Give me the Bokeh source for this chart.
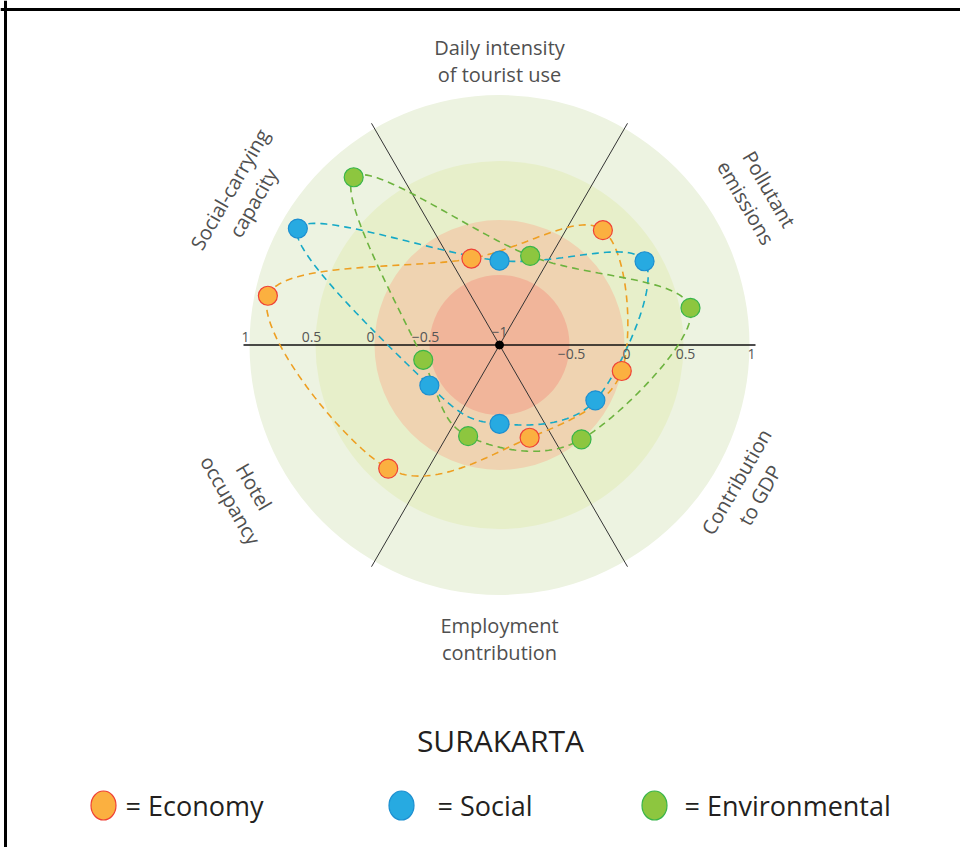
import numpy as np
from bokeh.plotting import figure
from bokeh.models import Range1d, Span
from bokeh.core.properties import value
from bokeh.embed import file_html
from bokeh.resources import INLINE

# ---------------- data ----------------
indicators = ["Social-carrying capacity", "Daily intensity of tourist use",
              "Pollutant emissions", "Contribution to GDP",
              "Employment contribution", "Hotel occupancy"]
indicator_lines = [["Social-carrying", "capacity"],
                   ["Daily intensity", "of tourist use"],
                   ["Pollutant", "emissions"],
                   ["Contribution", "to GDP"],
                   ["Employment", "contribution"],
                   ["Hotel", "occupancy"]]
economy = [0.90, -0.31, 0.25, 0.00, -0.25, 0.35]
social = [0.87, -0.37, 0.36, -0.13, -0.42, -0.40]
environmental = [0.79, -0.28, 0.58, 0.00, -0.26, -0.43]
series_names = ["Economy", "Social", "Environmental"]
ring_values = [1, 0.5, 0, -0.5]
left_tick_values = [1, 0.5, 0, -0.5]
left_tick_labels = ["1", "0.5", "0", "\u22120.5"]
right_tick_values = [-0.5, 0, 0.5, 1]
right_tick_labels = ["\u22120.5", "0", "0.5", "1"]
center_tick_label = "\u22121"
title_text = "SURAKARTA"

# ---------------- styling / geometry ----------------
W, H = 960, 847
CX, CY = 499, 344.5            # centre of the wheel inside the figure (px)
SCALE_V = [-1, -0.5, 0, 0.5, 1]
SCALE_R = [0, 70, 125, 184, 250]  # radial scale (px) of the drawing


def rad(v):
    return np.interp(v, SCALE_V, SCALE_R)


sector_deg = np.array([150, 90, 30, -30, -90, -150], dtype=float)
label_radius = [298, 284.5, 298, 287, 293.5, 297]
series_offset_deg = [18, 0, -19]
ring_colors = ["#EDF3E1", "#E7EFCA", "#EFD3B1", "#F1B59A"]
fill_colors = ["#FBB040", "#27AAE1", "#8DC63F"]
edge_colors = ["#EF4136", "#1D8FD0", "#39B54A"]
dash_colors = ["#EE9F22", "#16A9C6", "#6DB33F"]
FONT = value("Open Sans")
GREY = "#505050"

p = figure(width=W, height=H, output_backend="svg", toolbar_location=None,
           x_range=Range1d(-CX, W - CX), y_range=Range1d(-(H - CY), CY),
           min_border=0, outline_line_color=None)
p.axis.visible = False
p.grid.visible = False
p.background_fill_color = "white"
p.border_fill_color = "white"

# frame lines (top & left)
p.add_layout(Span(location=-CX + 5, dimension="height", line_color="black", line_width=3))
p.add_layout(Span(location=CY - 9, dimension="width", line_color="black", line_width=3))

# rings
for v, c in zip(ring_values, ring_colors):
    p.circle(x=[0], y=[0], radius=float(rad(v)), fill_color=c, line_color=None)

# spokes
L = 256
for a, lw, col in [(0, 1.3, "#111111"), (60, 1.0, "#333333"), (120, 1.0, "#333333")]:
    t = np.deg2rad(a)
    p.line(x=[-L * np.cos(t), L * np.cos(t)], y=[-L * np.sin(t), L * np.sin(t)],
           line_color=col, line_width=lw)


def catmull_closed(xs, ys, n=40):
    P = np.column_stack([xs, ys])
    N = len(P)
    out = []
    t = np.linspace(0, 1, n, endpoint=False)[:, None]
    for i in range(N):
        p0, p1, p2, p3 = P[(i - 1) % N], P[i], P[(i + 1) % N], P[(i + 2) % N]
        seg = 0.5 * ((2 * p1) + (-p0 + p2) * t + (2 * p0 - 5 * p1 + 4 * p2 - p3) * t ** 2
                     + (-p0 + 3 * p1 - 3 * p2 + p3) * t ** 3)
        out.append(seg)
    out.append(P[0:1])
    Q = np.vstack(out)
    return Q[:, 0], Q[:, 1]


all_series = [economy, social, environmental]
pts = []
for vals, off in zip(all_series, series_offset_deg):
    ang = np.deg2rad(sector_deg + off)
    r = rad(np.array(vals))
    pts.append((r * np.cos(ang), r * np.sin(ang)))

for (xs, ys), dc in zip(pts, dash_colors):
    cx, cy = catmull_closed(xs, ys)
    p.line(x=cx, y=cy, line_color=dc, line_width=1.6, line_dash="7 5")

for (xs, ys), fc, ec in zip(pts, fill_colors, edge_colors):
    p.scatter(x=xs, y=ys, size=19, fill_color=fc, line_color=ec, line_width=1.2)

# centre dot
p.scatter(x=[0], y=[0], size=8, fill_color="black", line_color="black")

# tick labels
TICK_FS = value("14px")
p.text(x=[-rad(v) - 4 for v in left_tick_values], y=[8.5] * len(left_tick_values),
       text=left_tick_labels, text_font=FONT, text_font_size=TICK_FS,
       text_color="#555555", text_align="center", text_baseline="middle")
p.text(x=[rad(v) + 2 for v in right_tick_values], y=[-8.5] * len(right_tick_values),
       text=right_tick_labels, text_font=FONT, text_font_size=TICK_FS,
       text_color="#555555", text_align="center", text_baseline="middle")
p.text(x=[0], y=[13], text=[center_tick_label], text_font=FONT,
       text_font_size=TICK_FS, text_color="#555555",
       text_align="center", text_baseline="middle")

# indicator labels
gap = 13.5
for deg, lines, LR in zip(sector_deg, indicator_lines, label_radius):
    t = np.deg2rad(deg)
    rot = deg - 90 if np.sin(t) >= -1e-9 else deg + 90
    if rot > 180:
        rot -= 360
    rr = np.deg2rad(rot)
    bx, by = LR * np.cos(t), LR * np.sin(t)
    ux, uy = -np.sin(rr), np.cos(rr)
    xs = [bx + gap * ux, bx - gap * ux]
    ys = [by + gap * uy, by - gap * uy]
    p.text(x=xs, y=ys, text=lines, angle=rr, text_font=FONT,
           text_font_size=value("20px"), text_color=GREY,
           text_align="center", text_baseline="middle")

# title
p.text(x=[1], y=[-395.5], text=[title_text], text_font=FONT,
       text_font_size=value("30px"), text_color="#231F20",
       text_align="center", text_baseline="middle")

# legend
leg_x = [-396, -98, 155]
leg_tx = [-374, -62, 185]
leg_y = -460.5
for i, name in enumerate(series_names):
    p.ellipse(x=[leg_x[i]], y=[leg_y], width=25, height=29,
              fill_color=fill_colors[i], line_color=edge_colors[i], line_width=1.2)
    p.text(x=[leg_tx[i]], y=[leg_y], text=["= " + name], text_font=FONT,
           text_font_size=value("27px"), text_color="#231F20",
           text_align="left", text_baseline="middle")

open("out.html", "w").write(file_html(p, INLINE))
